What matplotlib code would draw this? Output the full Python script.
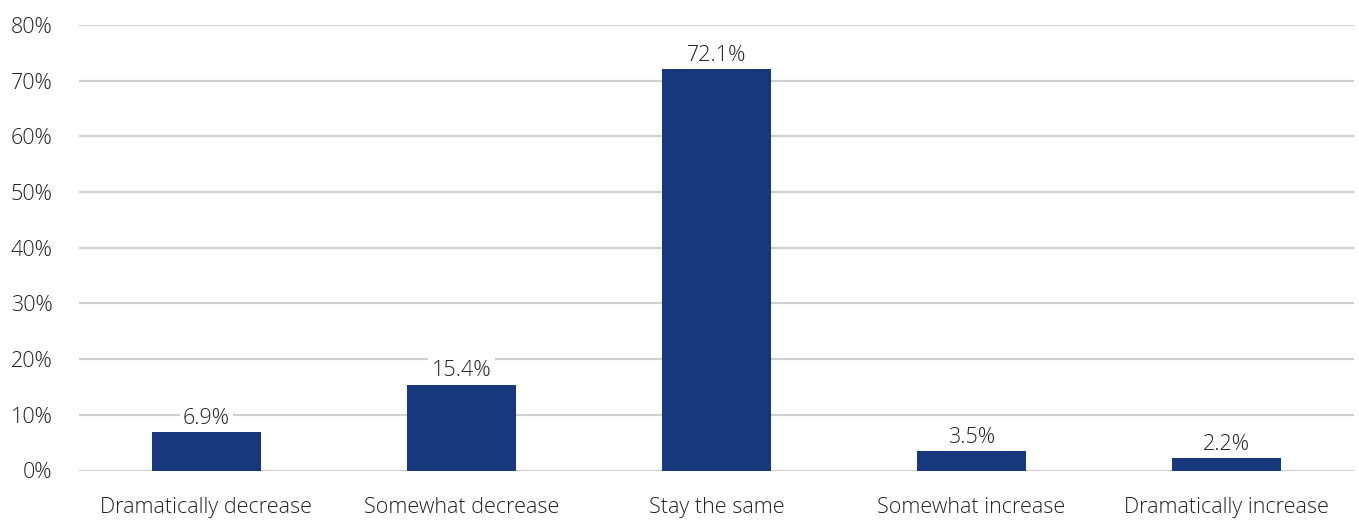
import matplotlib
matplotlib.use('Agg')
from matplotlib import pyplot as plt
from matplotlib.ticker import FuncFormatter

categories = ['Dramatically decrease', 'Somewhat decrease', 'Stay the same',
              'Somewhat increase', 'Dramatically increase']
values = [6.9, 15.4, 72.1, 3.5, 2.2]
yticks = [0, 10, 20, 30, 40, 50, 60, 70, 80]

plt.rcParams['font.family'] = ['Open Sans', 'DejaVu Sans']
plt.rcParams['font.weight'] = 'light'

fig = plt.figure(figsize=(13.59, 5.21), dpi=100)
ax = fig.add_axes([79/1359, 1 - 470.5/521, (1354-79)/1359, (470.5-25)/521])

x = range(len(categories))
bars = ax.bar(x, values, width=0.427, color='#17387D', zorder=3)

for xi, v in zip(x, values):
    ax.annotate('%.1f%%' % v, (xi, v), xytext=(0, 2.5), textcoords='offset points',
                ha='center', va='bottom', fontsize=15.5, color='#222222', zorder=4,
                bbox=dict(boxstyle='square,pad=0.15', fc='white', ec='none'))

ax.set_xlim(-0.5, len(categories) - 0.5)
ax.set_ylim(0, 80)
ax.set_yticks(yticks)
ax.yaxis.set_major_formatter(FuncFormatter(lambda v, p: '%d%%' % v))
ax.set_xticks(list(x))
ax.set_xticklabels(categories)
ax.grid(axis='y', color='#D0D0D0', linewidth=1.6, zorder=0)
ax.set_axisbelow(True)
ax.tick_params(axis='y', length=0, pad=19, labelsize=15.5, labelcolor='#222222')
ax.tick_params(axis='x', length=0, pad=19, labelsize=15.5, labelcolor='#222222')
for s in ax.spines.values():
    s.set_visible(False)

fig.savefig('out.png', dpi=100)
